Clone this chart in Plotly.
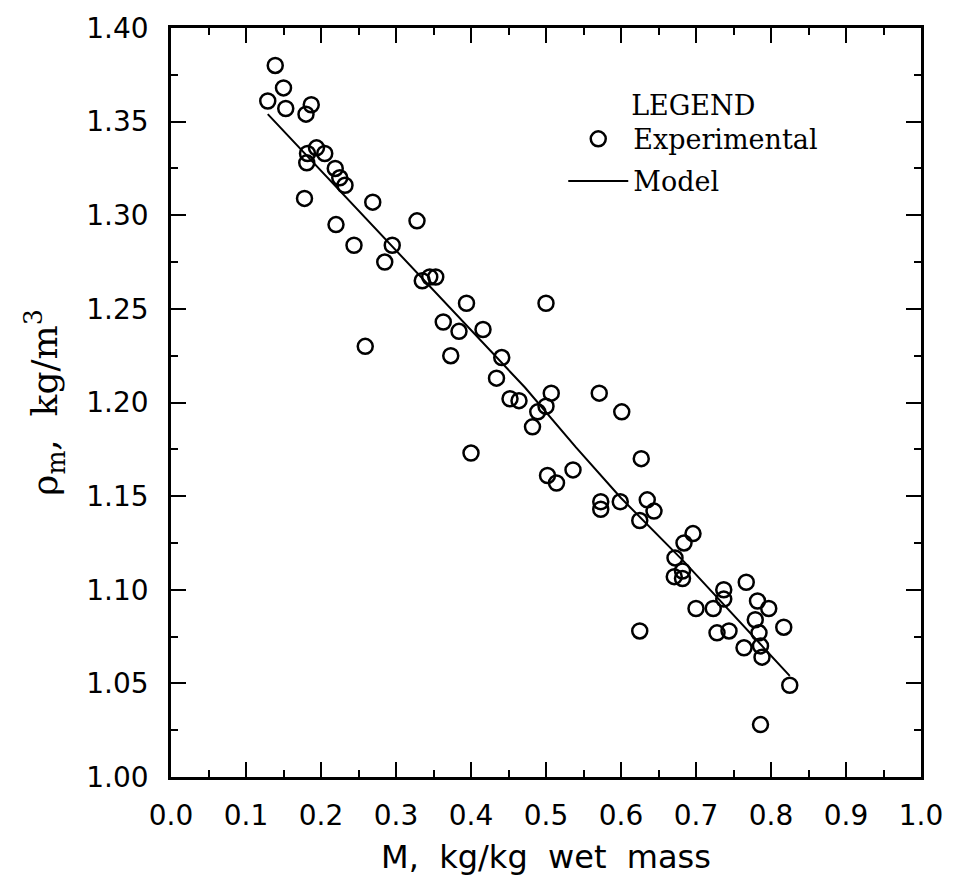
import plotly.graph_objects as go

# Experimental data (M, kg/kg wet mass ; rho_m, kg/m^3)
exp_M = [0.139, 0.150, 0.129, 0.153, 0.187, 0.180, 0.194, 0.205, 0.182, 0.181,
         0.219, 0.225, 0.232, 0.178, 0.269, 0.328, 0.220, 0.244, 0.295, 0.285,
         0.335, 0.345, 0.353, 0.394, 0.500, 0.363, 0.384, 0.416, 0.259, 0.373,
         0.441, 0.434, 0.452, 0.464, 0.507, 0.500, 0.489, 0.482, 0.571, 0.601,
         0.400, 0.627, 0.502, 0.514, 0.536, 0.573, 0.573, 0.599, 0.635, 0.644,
         0.625, 0.696, 0.684, 0.672, 0.682, 0.671, 0.682, 0.767, 0.737, 0.737,
         0.700, 0.723, 0.782, 0.797, 0.779, 0.728, 0.744, 0.784, 0.817, 0.625,
         0.764, 0.786, 0.788, 0.825, 0.786]
exp_rho = [1.380, 1.368, 1.361, 1.357, 1.359, 1.354, 1.336, 1.333, 1.333, 1.328,
           1.325, 1.320, 1.316, 1.309, 1.307, 1.297, 1.295, 1.284, 1.284, 1.275,
           1.265, 1.267, 1.267, 1.253, 1.253, 1.243, 1.238, 1.239, 1.230, 1.225,
           1.224, 1.213, 1.202, 1.201, 1.205, 1.198, 1.195, 1.187, 1.205, 1.195,
           1.173, 1.170, 1.161, 1.157, 1.164, 1.147, 1.143, 1.147, 1.148, 1.142,
           1.137, 1.130, 1.125, 1.117, 1.110, 1.107, 1.106, 1.104, 1.100, 1.095,
           1.090, 1.090, 1.094, 1.090, 1.084, 1.077, 1.078, 1.077, 1.080, 1.078,
           1.069, 1.070, 1.064, 1.049, 1.028]

# Model curve
model_M = [0.129, 0.366, 0.472, 0.540, 0.600, 0.684, 0.825]
model_rho = [1.354, 1.253, 1.208, 1.176, 1.149, 1.115, 1.054]

fig = go.Figure()
fig.add_trace(go.Scatter(
    x=exp_M, y=exp_rho, mode="markers", name="Experimental",
    legendgroup="a",
    marker=dict(symbol="circle-open", size=15, color="black",
                line=dict(width=2.5, color="black")),
))
fig.add_trace(go.Scatter(
    x=model_M, y=model_rho, mode="lines", name="Model",
    legendgroup="b",
    line=dict(color="black", width=2),
))

axis_common = dict(
    showline=True, linecolor="black", linewidth=2.5, mirror="allticks",
    ticks="inside", ticklen=15, tickwidth=2, tickcolor="black",
    showgrid=False, zeroline=False,
    tickfont=dict(family="DejaVu Sans", size=28, color="black"),
)

fig.update_xaxes(
    range=[0, 1.0], tick0=0, dtick=0.1, tickformat=".1f",
    minor=dict(ticks="inside", ticklen=7, tickwidth=2, tickcolor="black", dtick=0.05),
    title=dict(text="M,  kg/kg  wet  mass",
               font=dict(family="DejaVu Sans", size=32, color="black"), standoff=15),
    ticklabelstandoff=12,
    **axis_common,
)
fig.update_yaxes(
    range=[1.0, 1.40], tick0=1.0, dtick=0.05, tickformat=".2f",
    minor=dict(ticks="inside", ticklen=7, tickwidth=2, tickcolor="black", dtick=0.025),
    title=dict(text="ρ<sub>m</sub>,  kg/m<sup>3</sup>",
               font=dict(family="DejaVu Serif", size=36, color="black"), standoff=18),
    ticklabelstandoff=14,
    **axis_common,
)

fig.update_layout(
    width=955, height=884,
    margin=dict(l=171, r=30, t=22, b=107),
    paper_bgcolor="white", plot_bgcolor="white",
    showlegend=True,
    legend=dict(
        x=0.523, y=0.931, xanchor="left", yanchor="top",
        bgcolor="rgba(0,0,0,0)",
        font=dict(family="DejaVu Serif", size=27, color="black"),
        title=dict(text="LEGEND", side="top center",
                   font=dict(family="DejaVu Serif", size=27, color="black")),
        itemwidth=60, tracegroupgap=4,
    ),
)

fig.write_html("out.html")
